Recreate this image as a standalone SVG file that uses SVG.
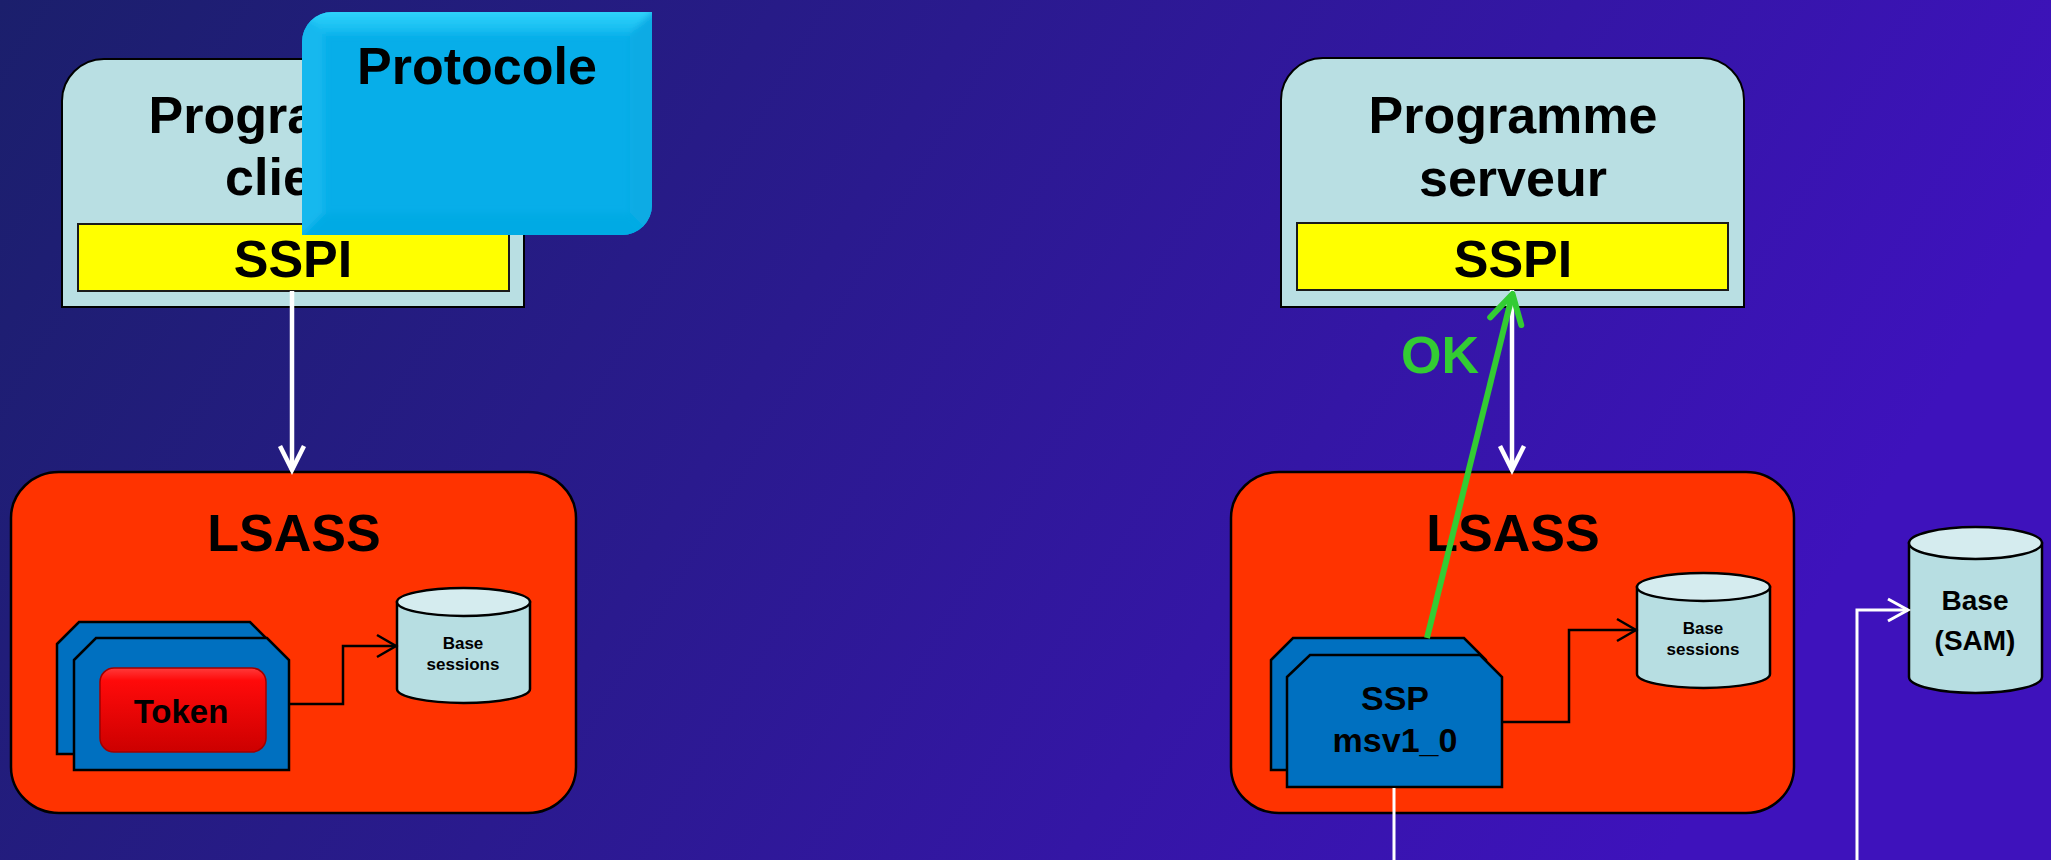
<svg xmlns="http://www.w3.org/2000/svg" width="2051" height="860" viewBox="0 0 2051 860">
<defs>
<style>
.t{font-family:"Liberation Sans",Arial,sans-serif;font-weight:bold;fill:#000;text-anchor:middle}
.prog{fill:#B9DFE3;stroke:#000;stroke-width:2}
.bar{fill:#FFFF00;stroke:#1a1a1a;stroke-width:2}
.lsass{fill:#FF3300;stroke:#000;stroke-width:2.5}
.card{fill:#0070C0;stroke:#000;stroke-width:2.5}
.cyl{fill:#B7DEE2;stroke:#000;stroke-width:2.5}
.cyltop{fill:#D5ECEF;stroke:#000;stroke-width:2.5}
.blk{fill:none;stroke:#000;stroke-width:2.5}
.wht{fill:none;stroke:#fff;stroke-width:4.5}
.wht2{fill:none;stroke:#fff;stroke-width:3}
.grn{fill:none;stroke:#33CC33;stroke-width:6}
</style>
<linearGradient id="bg" x1="0" y1="0" x2="1" y2="0.25">
<stop offset="0" stop-color="#1B1F6C"/>
<stop offset="0.45" stop-color="#2A1A8E"/>
<stop offset="1" stop-color="#3E12BC"/>
</linearGradient>
<linearGradient id="tok" x1="0" y1="0" x2="0" y2="1">
<stop offset="0" stop-color="#FF3A3A"/>
<stop offset="0.15" stop-color="#FF0A0A"/>
<stop offset="1" stop-color="#CC0000"/>
</linearGradient>
<linearGradient id="ptop" x1="0" y1="0" x2="0" y2="1">
<stop offset="0" stop-color="#38DAFF"/>
<stop offset="1" stop-color="#12B8EE"/>
</linearGradient>
<filter id="soft" x="-5%" y="-5%" width="110%" height="110%"><feGaussianBlur stdDeviation="3"/></filter>
<clipPath id="pclip"><path d="M332,12 H652 V205 A30 30 0 0 1 622,235 H302 V42 A30 30 0 0 1 332,12 Z"/></clipPath>
<marker id="aB" viewBox="-24 -14 28 28" refX="0" refY="0" markerWidth="28" markerHeight="28" markerUnits="userSpaceOnUse" orient="auto" overflow="visible">
<path d="M-19,-11 L0,0 L-19,11" fill="none" stroke="#000" stroke-width="2.5"/>
</marker>
<marker id="aW" viewBox="-30 -16 34 32" refX="0" refY="0" markerWidth="34" markerHeight="32" markerUnits="userSpaceOnUse" orient="auto" overflow="visible">
<path d="M-24,-12 L0,0 L-24,12" fill="none" stroke="#fff" stroke-width="4.5" stroke-linejoin="miter"/>
</marker>
<marker id="aW2" viewBox="-24 -14 28 28" refX="0" refY="0" markerWidth="28" markerHeight="28" markerUnits="userSpaceOnUse" orient="auto" overflow="visible">
<path d="M-20,-11 L0,0 L-20,11" fill="none" stroke="#fff" stroke-width="3"/>
</marker>
<marker id="aG" viewBox="-36 -22 40 44" refX="0" refY="0" markerWidth="40" markerHeight="44" markerUnits="userSpaceOnUse" orient="auto" overflow="visible">
<path d="M-28,-16 L0,0 L-28,16" fill="none" stroke="#33CC33" stroke-width="6" stroke-linecap="round" stroke-linejoin="round"/>
</marker>
</defs>
<rect x="0" y="0" width="2051" height="860" fill="url(#bg)"/>

<g id="client-program">
<path class="prog" d="M62,307 V101 A42 42 0 0 1 104,59 H482 A42 42 0 0 1 524,101 V307 Z"/>
<text class="t" x="293" y="133" font-size="52">Programme</text>
<text class="t" x="293" y="195" font-size="52">client</text>
<rect class="bar" x="78" y="224" width="431" height="67"/>
<text class="t" x="293" y="277" font-size="52">SSPI</text>
</g>

<g id="protocole">
<g clip-path="url(#pclip)">
<rect x="302" y="12" width="350" height="223" fill="#07AEE9"/>
<g filter="url(#soft)">
<polygon points="296,6 658,6 630,34 324,34" fill="url(#ptop)"/>
<polygon points="658,6 658,241 630,213 630,34" fill="#0AABE4"/>
<polygon points="296,241 658,241 630,213 324,213" fill="#06AAE4"/>
<polygon points="296,6 324,34 324,213 296,241" fill="#12B8EE"/>
</g>
</g>
<text class="t" x="477" y="84" font-size="52">Protocole</text>
</g>

<g id="server-program">
<path class="prog" d="M1281,307 V100 A42 42 0 0 1 1323,58 H1702 A42 42 0 0 1 1744,100 V307 Z"/>
<text class="t" x="1513" y="133" font-size="52">Programme</text>
<text class="t" x="1513" y="196" font-size="52">serveur</text>
<rect class="bar" x="1297" y="223" width="431" height="67"/>
<text class="t" x="1513" y="277" font-size="52">SSPI</text>
</g>

<g id="client-lsass">
<rect class="lsass" x="11" y="472" width="565" height="341" rx="48" ry="46"/>
<text class="t" x="294" y="551" font-size="52">LSASS</text>
</g>

<g id="client-ssp">
<polygon class="card" points="57,644 79,622 250,622 272,644 272,754 57,754"/>
<polygon class="card" points="74,660 96,638 267,638 289,660 289,770 74,770"/>
</g>

<g id="token">
<rect x="100" y="668" width="166" height="84" rx="14" fill="url(#tok)" stroke="#A00000" stroke-width="1.5"/>
<text class="t" x="181" y="723" font-size="33">Token</text>
</g>

<g id="client-base-sessions">
<path class="cyl" d="M397,602 V689 A66.5 14 0 0 0 530,689 V602 Z"/>
<ellipse class="cyltop" cx="463.5" cy="602" rx="66.5" ry="14"/>
<text class="t" x="463" y="649" font-size="17">Base</text>
<text class="t" x="463" y="670" font-size="17">sessions</text>
</g>

<g id="server-lsass">
<rect class="lsass" x="1231" y="472" width="563" height="341" rx="48" ry="46"/>
<text class="t" x="1513" y="551" font-size="52">LSASS</text>
</g>

<g id="server-ssp">
<polygon class="card" points="1271,660 1293,638 1464,638 1486,660 1486,770 1271,770"/>
<polygon class="card" points="1287,677 1310,655 1480,655 1502,677 1502,787 1287,787"/>
<text class="t" x="1395" y="710" font-size="34">SSP</text>
<text class="t" x="1395" y="752" font-size="34">msv1_0</text>
</g>

<g id="server-base-sessions">
<path class="cyl" d="M1637,587 V674 A66.5 14 0 0 0 1770,674 V587 Z"/>
<ellipse class="cyltop" cx="1703.5" cy="587" rx="66.5" ry="14"/>
<text class="t" x="1703" y="634" font-size="17">Base</text>
<text class="t" x="1703" y="655" font-size="17">sessions</text>
</g>

<g id="base-sam">
<path class="cyl" d="M1909,543 V677 A66.5 16 0 0 0 2042,677 V543 Z"/>
<ellipse class="cyltop" cx="1975.5" cy="543" rx="66.5" ry="16"/>
<text class="t" x="1975" y="610" font-size="28">Base</text>
<text class="t" x="1975" y="650" font-size="28">(SAM)</text>
</g>

<g id="connectors">
<path class="wht" d="M292,291 V470" marker-end="url(#aW)"/>
<path class="blk" d="M289,704 H343 V646 H396" marker-end="url(#aB)"/>
<path class="wht" d="M1512,290 V470" marker-end="url(#aW)"/>
<path class="blk" d="M1502,722 H1569 V630 H1636" marker-end="url(#aB)"/>
<path class="grn" d="M1427,638 L1512.5,294" marker-end="url(#aG)"/>
<path class="wht2" d="M1394,788 V860"/>
<path class="wht2" d="M1857,860 V610 H1908" marker-end="url(#aW2)"/>
<text x="1440" y="373" font-family="'Liberation Sans',Arial,sans-serif" font-weight="bold" font-size="52" fill="#33CC33" text-anchor="middle">OK</text>
</g>
</svg>
